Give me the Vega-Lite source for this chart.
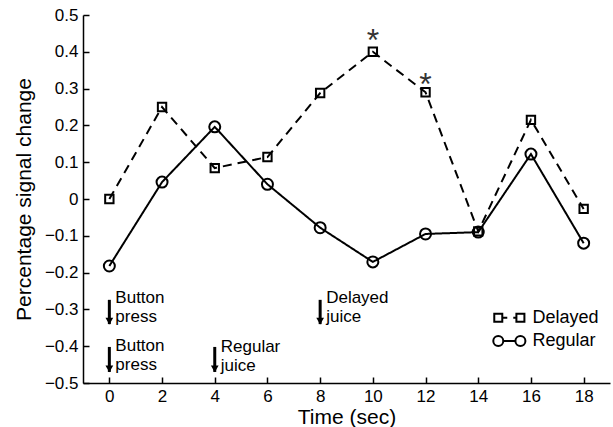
{
  "$schema": "https://vega.github.io/schema/vega-lite/v6.json",
  "width": 527,
  "height": 368,
  "autosize": "none",
  "padding": {"left": 83, "top": 15, "right": 3, "bottom": 44},
  "background": "white",
  "config": {
    "view": {"stroke": null},
    "font": "Liberation Sans",
    "axis": {
      "domainColor": "black", "domainWidth": 1.5, "tickColor": "black", "tickWidth": 1.5,
      "tickSize": -6, "labelPadding": 11, "labelColor": "black", "labelFontSize": 17, "labelOverlap": false,
      "labelFont": "Liberation Sans", "titleFont": "Liberation Sans", "titleFontSize": 21,
      "titleFontWeight": "normal", "titleColor": "black", "grid": false, "tickCount": 30
    }
  },
  "datasets": {
    "series": [
      {"time": 0, "value": 0.0, "condition": "Delayed"},
      {"time": 2, "value": 0.25, "condition": "Delayed"},
      {"time": 4, "value": 0.084, "condition": "Delayed"},
      {"time": 6, "value": 0.114, "condition": "Delayed"},
      {"time": 8, "value": 0.288, "condition": "Delayed"},
      {"time": 10, "value": 0.40, "condition": "Delayed"},
      {"time": 12, "value": 0.29, "condition": "Delayed"},
      {"time": 14, "value": -0.088, "condition": "Delayed"},
      {"time": 16, "value": 0.215, "condition": "Delayed"},
      {"time": 18, "value": -0.027, "condition": "Delayed"},
      {"time": 0, "value": -0.182, "condition": "Regular"},
      {"time": 2, "value": 0.046, "condition": "Regular"},
      {"time": 4, "value": 0.196, "condition": "Regular"},
      {"time": 6, "value": 0.04, "condition": "Regular"},
      {"time": 8, "value": -0.078, "condition": "Regular"},
      {"time": 10, "value": -0.171, "condition": "Regular"},
      {"time": 12, "value": -0.095, "condition": "Regular"},
      {"time": 14, "value": -0.09, "condition": "Regular"},
      {"time": 16, "value": 0.122, "condition": "Regular"},
      {"time": 18, "value": -0.12, "condition": "Regular"}
    ],
    "legendRows": [
      {"condition": "Delayed", "x1": 14.76, "x2": 15.6, "y": -0.323},
      {"condition": "Regular", "x1": 14.76, "x2": 15.6, "y": -0.386}
    ],
    "events": [
      {"time": 0, "top": -0.274, "tip": -0.34, "label": "Button\npress", "labelY": -0.27},
      {"time": 0, "top": -0.402, "tip": -0.47, "label": "Button\npress", "labelY": -0.40},
      {"time": 4, "top": -0.402, "tip": -0.47, "label": "Regular\njuice", "labelY": -0.401},
      {"time": 8, "top": -0.274, "tip": -0.34, "label": "Delayed\njuice", "labelY": -0.269}
    ],
    "stars": [
      {"time": 10, "value": 0.428},
      {"time": 12, "value": 0.311}
    ]
  },
  "layer": [
    {
      "data": {"name": "series"},
      "mark": {"type": "line", "color": "black", "strokeWidth": 2},
      "encoding": {
        "x": {"field": "time", "type": "quantitative", "scale": {"domain": [-1, 19], "nice": false},
              "axis": {"values": [0, 2, 4, 6, 8, 10, 12, 14, 16, 18], "format": "d", "title": "Time (sec)", "titlePadding": 2}},
        "y": {"field": "value", "type": "quantitative", "scale": {"domain": [-0.5, 0.5], "nice": false},
              "axis": {"values": [-0.5, -0.4, -0.3, -0.2, -0.1, 0, 0.1, 0.2, 0.3, 0.4, 0.5], "format": ".1~f",
                       "title": "Percentage signal change", "titlePadding": 10}},
        "strokeDash": {"field": "condition", "type": "nominal",
                       "scale": {"domain": ["Delayed", "Regular"], "range": [[9, 6], [1, 0]]}, "legend": null}
      }
    },
    {
      "data": {"name": "series"},
      "transform": [{"filter": "datum.condition === 'Delayed'"}],
      "mark": {"type": "point", "shape": "square", "filled": false, "color": "black", "strokeWidth": 2, "opacity": 1, "size": 70},
      "encoding": {
        "x": {"field": "time", "type": "quantitative"},
        "y": {"field": "value", "type": "quantitative"}
      }
    },
    {
      "data": {"name": "series"},
      "transform": [{"filter": "datum.condition === 'Regular'"}],
      "mark": {"type": "point", "shape": "circle", "filled": false, "color": "black", "strokeWidth": 2, "opacity": 1, "size": 121},
      "encoding": {
        "x": {"field": "time", "type": "quantitative"},
        "y": {"field": "value", "type": "quantitative"}
      }
    },
    {
      "data": {"name": "legendRows"},
      "mark": {"type": "rule", "color": "black", "strokeWidth": 2},
      "encoding": {
        "x": {"field": "x1", "type": "quantitative"},
        "x2": {"field": "x2"},
        "y": {"field": "y", "type": "quantitative"},
        "strokeDash": {"field": "condition", "type": "nominal", "legend": null}
      }
    },
    {
      "data": {"name": "legendRows"},
      "transform": [{"filter": "datum.condition === 'Delayed'"}, {"fold": ["x1", "x2"], "as": ["end", "lx"]}],
      "mark": {"type": "point", "shape": "square", "filled": true, "fill": "white", "stroke": "black", "strokeWidth": 2, "opacity": 1, "size": 64},
      "encoding": {
        "x": {"field": "lx", "type": "quantitative"},
        "y": {"field": "y", "type": "quantitative"}
      }
    },
    {
      "data": {"name": "legendRows"},
      "transform": [{"filter": "datum.condition === 'Regular'"}, {"fold": ["x1", "x2"], "as": ["end", "lx"]}],
      "mark": {"type": "point", "shape": "circle", "filled": true, "fill": "white", "stroke": "black", "strokeWidth": 2, "opacity": 1, "size": 100},
      "encoding": {
        "x": {"field": "lx", "type": "quantitative"},
        "y": {"field": "y", "type": "quantitative"}
      }
    },
    {
      "data": {"name": "legendRows"},
      "mark": {"type": "text", "align": "left", "baseline": "middle", "dx": 12, "fontSize": 18, "color": "black", "font": "Liberation Sans"},
      "encoding": {
        "x": {"field": "x2", "type": "quantitative"},
        "y": {"field": "y", "type": "quantitative"},
        "text": {"field": "condition"}
      }
    },
    {
      "data": {"name": "events"},
      "mark": {"type": "rule", "color": "black", "strokeWidth": 3},
      "encoding": {
        "x": {"field": "time", "type": "quantitative"},
        "y": {"field": "top", "type": "quantitative"},
        "y2": {"field": "tip"}
      }
    },
    {
      "data": {"name": "events"},
      "mark": {"type": "point", "shape": "triangle-down", "filled": true, "color": "black", "size": 60, "opacity": 1, "yOffset": -3},
      "encoding": {
        "x": {"field": "time", "type": "quantitative"},
        "y": {"field": "tip", "type": "quantitative"}
      }
    },
    {
      "data": {"name": "events"},
      "mark": {"type": "text", "align": "left", "baseline": "middle", "dx": 6, "fontSize": 17, "lineBreak": "\n", "lineHeight": 19, "color": "black", "font": "Liberation Sans"},
      "encoding": {
        "x": {"field": "time", "type": "quantitative"},
        "y": {"field": "labelY", "type": "quantitative"},
        "text": {"field": "label"}
      }
    },
    {
      "data": {"name": "stars"},
      "mark": {"type": "text", "text": "*", "fontSize": 32, "color": "#333333", "baseline": "middle", "font": "Liberation Sans"},
      "encoding": {
        "x": {"field": "time", "type": "quantitative"},
        "y": {"field": "value", "type": "quantitative"}
      }
    }
  ]
}
